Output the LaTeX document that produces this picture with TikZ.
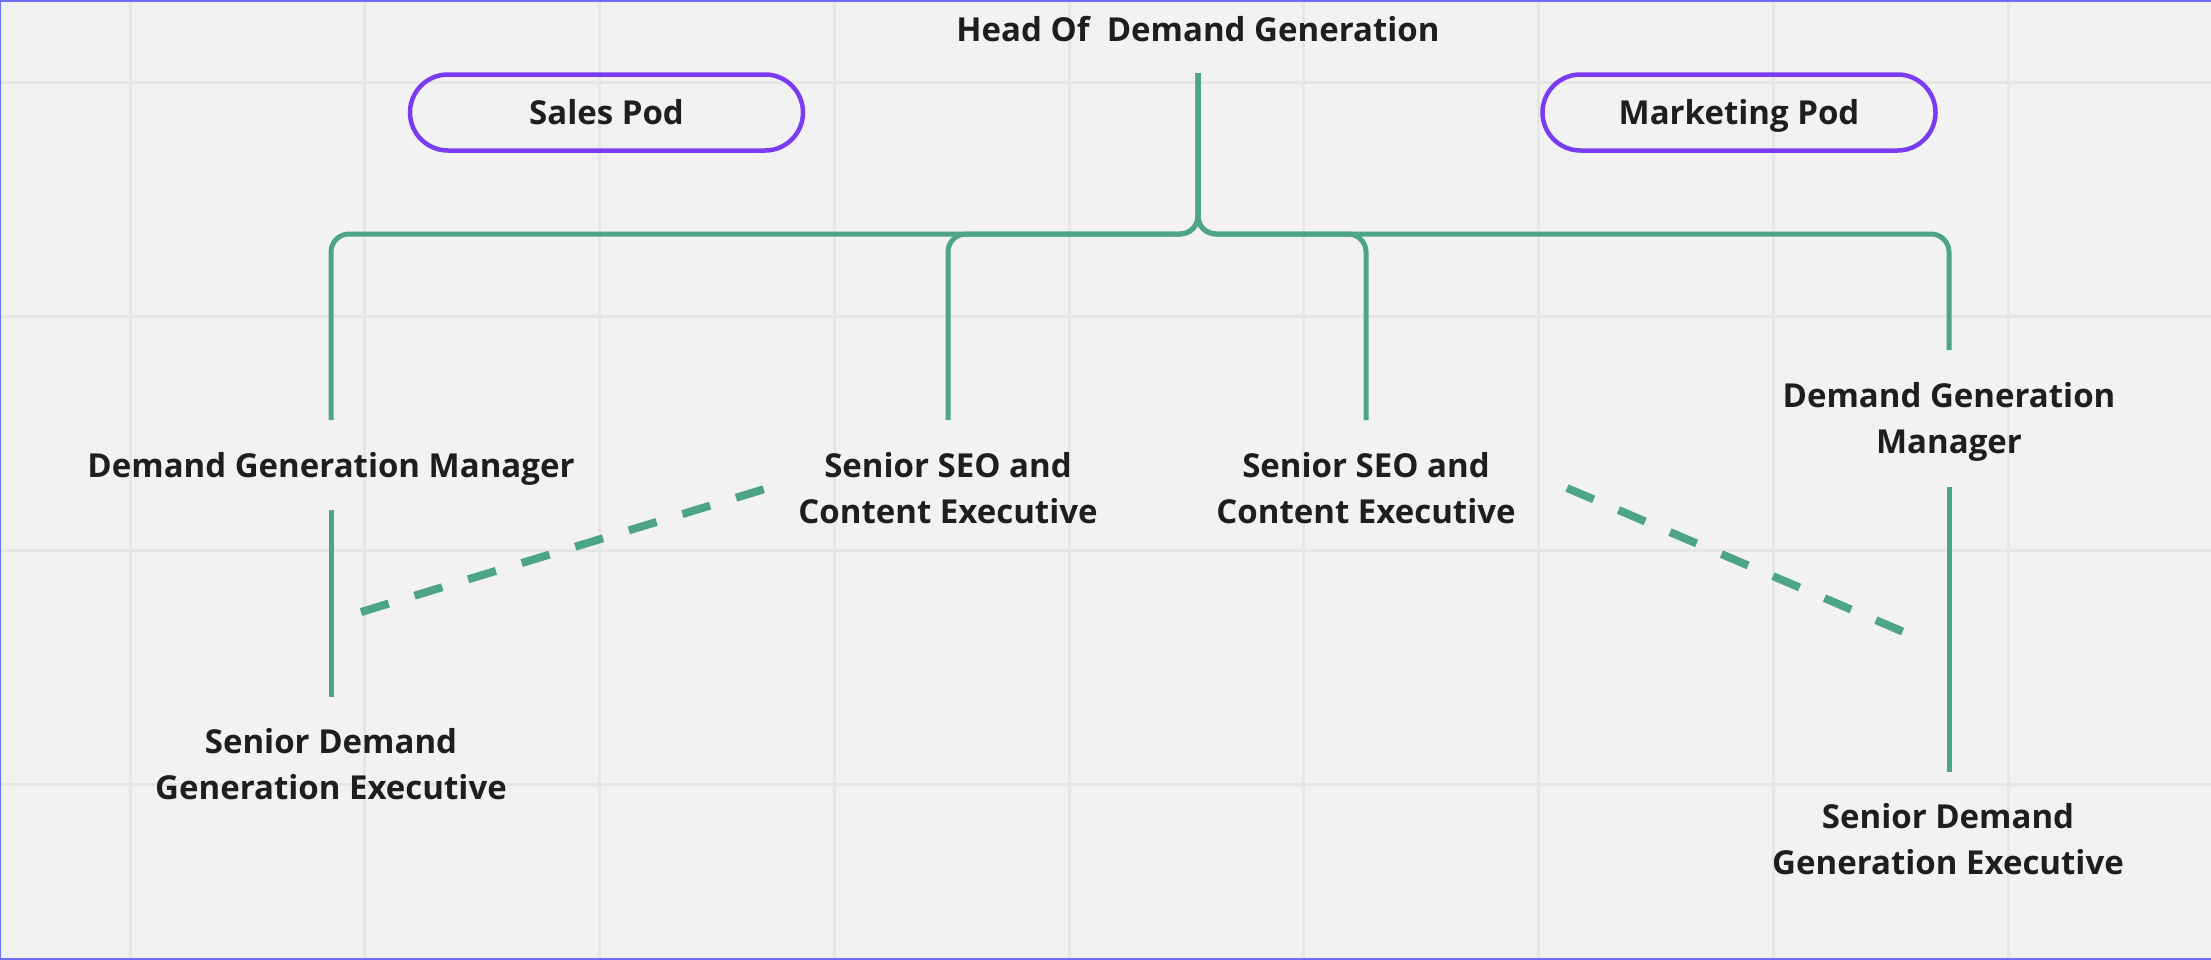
\documentclass[tikz,border=0pt]{standalone}
\usepackage{fontspec}
\setmainfont{Open Sans}
\definecolor{bgc}{RGB}{242,242,242}
\definecolor{gridc}{RGB}{230,230,230}
\definecolor{treeg}{RGB}{78,164,136}
\definecolor{podc}{RGB}{122,60,240}
\definecolor{textc}{RGB}{30,30,30}
\definecolor{bordc}{RGB}{108,108,255}
\begin{document}
\begin{tikzpicture}[x=1pt,y=-1pt,
  lbl/.style={font=\bfseries\fontsize{33}{46}\selectfont, text=textc, align=center, inner sep=0pt, anchor=base},
  tree/.style={draw=treeg, line width=5pt, rounded corners=18pt},
  solidln/.style={draw=treeg, line width=5pt},
  dashln/.style={draw=treeg, line width=8pt, dash pattern=on 29pt off 27pt},
  pod/.style={draw=podc, line width=4.5pt, rounded corners=38pt, minimum width=393pt, minimum height=76pt, inner sep=0pt, text height=23.5pt, text depth=0pt, font=\bfseries\fontsize{33}{46}\selectfont, text=textc},
  gridln/.style={draw=gridc, line width=3pt}]
\useasboundingbox (0,0) rectangle (2211,959);
\fill[bgc] (0,0) rectangle (2211,959);
\foreach \i in {0,...,8} \draw[gridln] ({130+234.75*\i},0) -- ({130+234.75*\i},959);
\foreach \y in {82,316,550,784} \draw[gridln] (0,\y) -- (2211,\y);
\draw[bordc, line width=4pt] (0,0) -- (2211,0);
\draw[bordc, line width=2pt] (0,0) -- (0,959);
\draw[bordc, line width=2pt] (0,959) -- (2211,959);

% texts (multi-line nodes: base = last line's baseline)
\node[lbl] (head) at (1198,41) {Head Of~~Demand Generation};
\node[pod] (sales) at (606.5,112.5) {Sales Pod};
\node[pod] (mkt) at (1739,112.5) {Marketing Pod};
\node[lbl] (dgmL) at (331,477) {Demand Generation Manager};
\node[lbl] (seo1) at (948,523) {Senior SEO and\\Content Executive};
\node[lbl] (seo2) at (1366,523) {Senior SEO and\\Content Executive};
\node[lbl] (dgmR) at (1949,453) {Demand Generation\\Manager};
\node[lbl] (srL) at (331,799) {Senior Demand\\Generation Executive};
\node[lbl] (srR) at (1948,874) {Senior Demand\\Generation Executive};

% connector coordinates
\coordinate (hb) at (1198,73);
\coordinate (t1) at (331,420);
\coordinate (t2) at (948,420);
\coordinate (t3) at (1366,420);
\coordinate (t4) at (1949,350);
\coordinate (l1a) at (331,510);
\coordinate (l1b) at (331,697);
\coordinate (r1a) at (1949,487);
\coordinate (r1b) at (1949,772);
\coordinate (d1a) at (361,612);
\coordinate (d1b) at (768,488);
\coordinate (d2a) at (1567,488);
\coordinate (d2b) at (1906,633);

\foreach \t in {t1,t2,t3,t4}
  \draw[tree] (hb) -- (1198,234) -| (\t);
\draw[solidln] (l1a) -- (l1b);
\draw[solidln] (r1a) -- (r1b);
\draw[dashln] (d1a) -- (d1b);
\draw[dashln] (d2a) -- (d2b);
\end{tikzpicture}
\end{document}
